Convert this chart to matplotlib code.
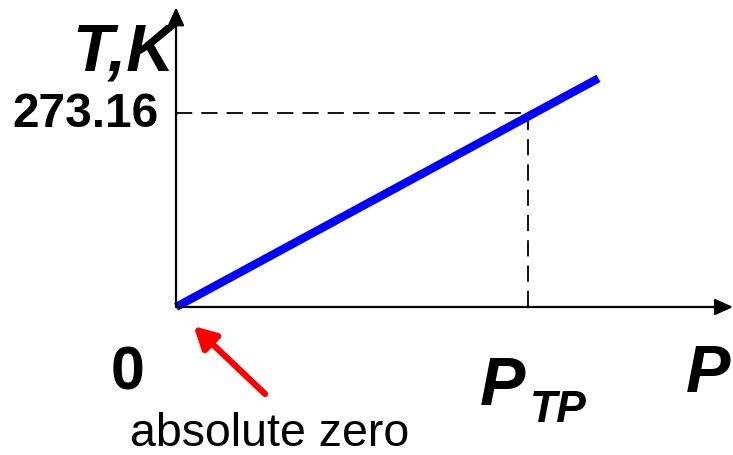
# sketch of the ideal-gas thermometer: T vs P through absolute zero

import matplotlib.pyplot as plt

plt.rcParams['font.family'] = ['Liberation Sans', 'DejaVu Sans']

# data (P in units of the triple-point pressure, T in kelvin)
p_tp = 1.0
t_tp = 273.16
line_p = [0.0, 1.2]
line_t = [0.0, 322.0]
x_axis_end = 1.582
y_axis_end = 422.0

fig = plt.figure(figsize=(7.33, 4.56), dpi=100)
ax = fig.add_axes([0, 0, 1, 1])
ax.set_xlim(-0.5, 1.582)
ax.set_ylim(-208.4, 433.7)
ax.axis('off')

# axes with arrow heads
arrow_kw = dict(arrowstyle='-|>,head_length=1.1,head_width=0.5', color='black',
                lw=1.6, shrinkA=0, shrinkB=0)
ax.annotate('', xy=(x_axis_end, 0), xytext=(0, 0), arrowprops=arrow_kw)
ax.annotate('', xy=(0, y_axis_end), xytext=(0, 0), arrowprops=arrow_kw)

# dashed guides to the triple point
ax.plot([0, p_tp], [t_tp, t_tp], color='black', lw=1.3, ls=(0, (9, 5)))
ax.plot([p_tp, p_tp], [0, t_tp], color='black', lw=1.3, ls=(0, (9, 5)))

# the line
ax.plot(line_p, line_t, color='#0000ff', lw=6, solid_capstyle='butt')

bi = dict(fontweight='bold', fontstyle='italic', color='black')
ax.text(-0.005, 335, 'T,K', fontsize=48, ha='right', va='baseline', **bi)
ax.text(-0.05, t_tp, '273.16', fontsize=34.5, fontweight='bold', ha='right', va='center')
ax.text(-0.139, -115, '0', fontsize=44, fontweight='bold', ha='center', va='baseline')
ax.text(1.449, -118, 'P', fontsize=48, ha='left', va='baseline', **bi)
ax.text(0.862, -137, 'P', fontsize=49, ha='left', va='baseline', **bi)
ax.text(1.006, -160, 'TP', fontsize=32, ha='left', va='baseline', **bi)

# absolute zero pointer
ax.annotate('', xy=(0.05, -27), xytext=(0.253, -122.5),
            arrowprops=dict(arrowstyle='-|>,head_length=1.3,head_width=0.7',
                            color='red', lw=4.5, shrinkA=0, shrinkB=0))
ax.text(0.265, -194, 'absolute zero', fontsize=33.5, ha='center', va='baseline')

fig.savefig('out.png', dpi=100)
